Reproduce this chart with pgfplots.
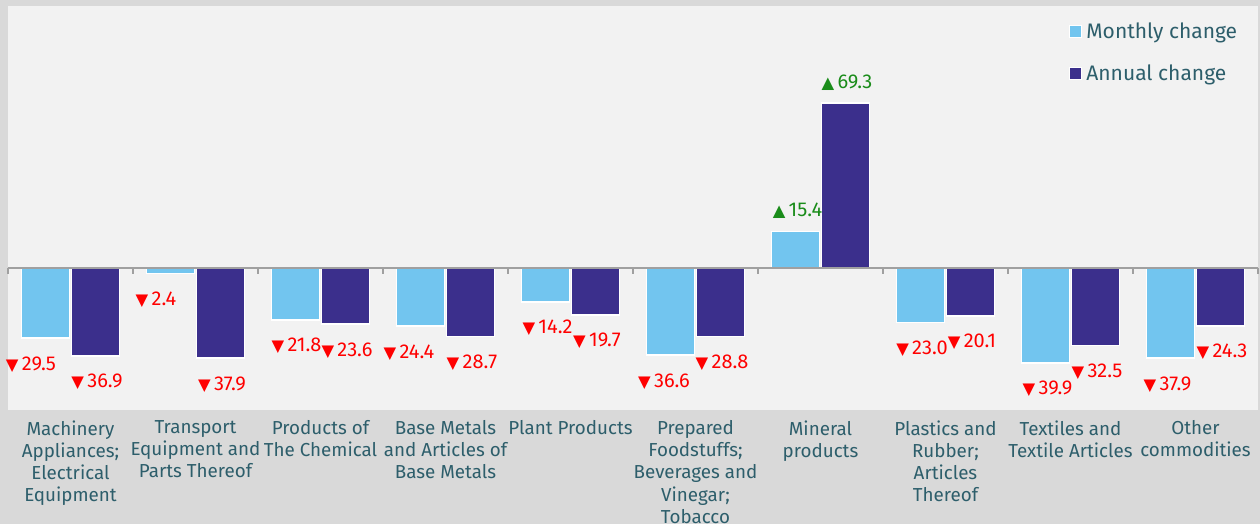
\documentclass[border=0pt]{standalone}
\usepackage{pgfplots}
\pgfplotsset{compat=1.18}
\usepackage{fontspec}
\setmainfont{Fira Sans}
\newfontfamily\symf{DejaVu Sans}
\definecolor{outerg}{HTML}{D9D9D9}
\definecolor{plotbg}{HTML}{F2F2F2}
\definecolor{mblue}{HTML}{72C5EF}
\definecolor{apurp}{HTML}{3B2F8C}
\definecolor{textc}{HTML}{2D5E6B}
\definecolor{zeroc}{HTML}{A0A0A0}
\definecolor{upg}{HTML}{1A8C1A}
% label: zero-size box, label centred at horizontal offset #2 (pt)
\newcommand\dn[2]{\raisebox{-16pt}[0pt][0pt]{\makebox[0pt][c]{\hskip#2pt\hskip#2pt\textcolor{red}{{\symf\fontsize{8.2}{9}\selectfont ▼}\,#1}}}}
\newcommand\up[2]{\raisebox{7.5pt}[0pt][0pt]{\makebox[0pt][c]{\hskip#2pt\hskip#2pt\textcolor{upg}{{\symf\fontsize{8.2}{9}\selectfont ▲}\,#1}}}}

\pgfplotsset{
  legsq/.style={legend image code/.code={\draw[##1,draw=white,line width=0.5pt] (0pt,-3pt) rectangle (6pt,3pt);}},
  vlab/.style={
    point meta=explicit symbolic,
    nodes near coords={\pgfplotspointmeta},
    every node near coord/.append style={font=\fontsize{10}{11}\selectfont, inner sep=0pt, anchor=center},
  },
}

\begin{document}
\begin{tikzpicture}
\useasboundingbox (0,0) rectangle (630pt,262pt);
\fill[outerg] (0,0) rectangle (630pt,262pt);
\begin{axis}[
  at={(4pt,57pt)}, anchor=south west,
  scale only axis, width=625pt, height=202pt,
  xmin=-0.5, xmax=9.5, ymin=-59.7, ymax=110.2,
  axis background/.style={fill=plotbg},
  axis line style={draw=none},
  ytick=\empty,
  xtick={0,...,9},
  major tick length=0pt,
  xticklabels={{Machinery\\Appliances;\\Electrical\\Equipment},
    {Transport\\Equipment and\\Parts Thereof},
    {Products of\\The Chemical},
    {Base Metals\\and Articles of\\Base Metals},
    {Plant Products},
    {Prepared\\Foodstuffs;\\Beverages and\\Vinegar;\\Tobacco},
    {Mineral\\products},
    {Plastics and\\Rubber;\\Articles\\Thereof},
    {Textiles and\\Textile Articles},
    {Other\\commodities}},
  xticklabel style={font=\fontsize{9.4}{11.1}\selectfont, text=textc, align=center, anchor=north, inner sep=0pt, yshift=-5pt},
  ybar=1pt, bar width=24pt,
  legend style={at={(0.8488,0.97)}, anchor=north west, draw=none, fill=none,
    font=\fontsize{10.5}{12.5}\selectfont, text=textc, row sep=7.5pt, inner sep=0pt},
  legend cell align=left,
  clip=false,
]
\addplot[fill=mblue, draw=white, line width=0.75pt, legsq, vlab] coordinates {
  (0,-29.5) [\dn{29.5}{-7.25}]
  (1,-2.4)  [\dn{2.4}{-7.25}]
  (2,-21.8) [\dn{21.8}{0.5}]
  (3,-24.4) [\dn{24.4}{-5.75}]
  (4,-14.2) [\dn{14.2}{1}]
  (5,-36.6) [\dn{36.6}{-3.25}]
  (6,15.4)  [\up{15.4}{1}]
  (7,-23.0) [\dn{23.0}{0.75}]
  (8,-39.9) [\dn{39.9}{1}]
  (9,-37.9) [\dn{37.9}{-1.5}]
};
\addlegendentry{Monthly change}
\addplot[fill=apurp, draw=white, line width=0.75pt, legsq, vlab] coordinates {
  (0,-36.9) [\dn{36.9}{0.75}]
  (1,-37.9) [\dn{37.9}{0.75}]
  (2,-23.6) [\dn{23.6}{0.75}]
  (3,-28.7) [\dn{28.7}{0.75}]
  (4,-19.7) [\dn{19.7}{0.75}]
  (5,-28.8) [\dn{28.8}{0.75}]
  (6,69.3)  [\up{69.3}{0.75}]
  (7,-20.1) [\dn{20.1}{0.75}]
  (8,-32.5) [\dn{32.5}{0.75}]
  (9,-24.3) [\dn{24.3}{0.75}]
};
\addlegendentry{Annual change}
\draw[zeroc, line width=1pt] (axis cs:-0.5,0) -- (axis cs:9.5,0);
\draw[zeroc, line width=0.75pt]
  (axis cs:-0.5,0) -- ++(0pt,-3pt) (axis cs:0.5,0) -- ++(0pt,-3pt)
  (axis cs:1.5,0) -- ++(0pt,-3pt) (axis cs:2.5,0) -- ++(0pt,-3pt)
  (axis cs:3.5,0) -- ++(0pt,-3pt) (axis cs:4.5,0) -- ++(0pt,-3pt)
  (axis cs:5.5,0) -- ++(0pt,-3pt) (axis cs:6.5,0) -- ++(0pt,-3pt)
  (axis cs:7.5,0) -- ++(0pt,-3pt) (axis cs:8.5,0) -- ++(0pt,-3pt)
  (axis cs:9.5,0) -- ++(0pt,-3pt);
\end{axis}
\end{tikzpicture}
\end{document}
